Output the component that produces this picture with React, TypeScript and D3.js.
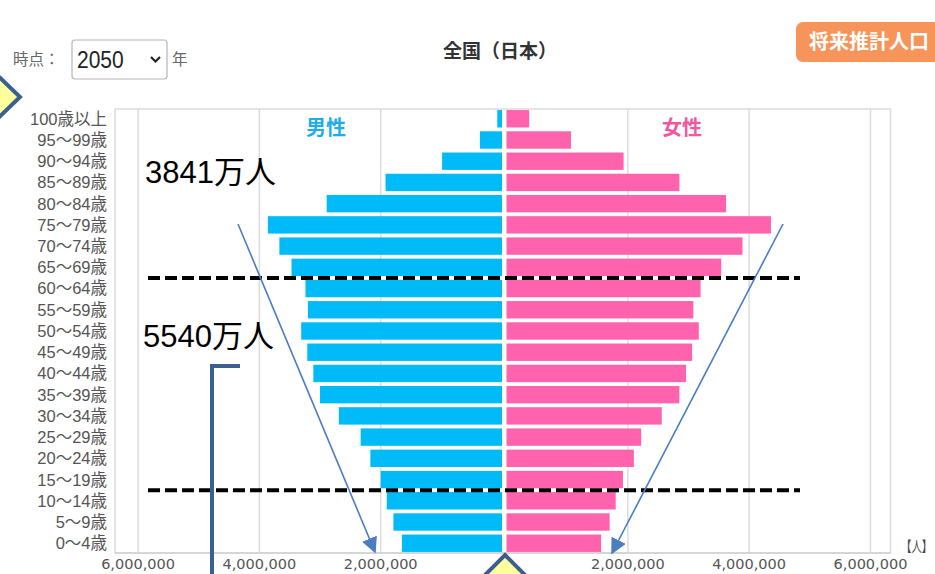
import React from "react";
import * as d3 from "d3";

const ages = [
  "100歳以上", "95～99歳", "90～94歳", "85～89歳", "80～84歳", "75～79歳", "70～74歳",
  "65～69歳", "60～64歳", "55～59歳", "50～54歳", "45～49歳", "40～44歳", "35～39歳",
  "30～34歳", "25～29歳", "20～24歳", "15～19歳", "10～14歳", "5～9歳", "0～4歳",
];
const maleValues = [
  78000, 364000, 987000, 1920000, 2890000, 3860000, 3670000, 3470000, 3240000, 3200000,
  3310000, 3210000, 3110000, 3000000, 2690000, 2330000, 2170000, 2000000, 1900000, 1790000, 1650000,
];
const femaleValues = [
  374000, 1063000, 1930000, 2850000, 3620000, 4360000, 3890000, 3540000, 3200000, 3080000,
  3170000, 3060000, 2960000, 2850000, 2560000, 2220000, 2100000, 1920000, 1800000, 1700000, 1560000,
];
const tickValues = [2000000, 4000000, 6000000];
const boundaryPairs = [["65～69歳", "60～64歳"], ["15～19歳", "10～14歳"]];
const annotationTexts = ["3841万人", "5540万人"];

const W = 935;
const H = 574;
const JP = "'Noto Sans CJK JP', 'Noto Sans', sans-serif";
const NUM = "'DejaVu Sans', 'Noto Sans CJK JP', sans-serif";
const LAB = "'Liberation Sans', 'Noto Sans CJK JP', sans-serif";

export default function App() {
  const top = 109;
  const bottom = 553;
  const y = d3.scaleBand<string>().domain(ages).range([top, bottom]).paddingInner(0.18).paddingOuter(0.05);
  const xMale = d3.scaleLinear().domain([0, 6380000]).range([502, 115]);
  const xFemale = d3.scaleLinear().domain([0, 6330000]).range([506.5, 890.5]);
  const fmt = d3.format(",");
  const bw = y.bandwidth();
  const boundaryY = (a: string, b: string) => ((y(a) as number) + bw + (y(b) as number)) / 2;

  const arrowColor = "#4a7ebf";
  const darkBlue = "#3b5f8f";

  return (
    <svg width={W} height={H} style={{ position: "absolute", left: 0, top: 0, background: "#fff" }}>
      <defs>
        <marker id="arr" viewBox="0 0 10 10" refX="9" refY="5" markerWidth="10" markerHeight="10" orient="auto">
          <path d="M0,0 L10,5 L0,10 z" fill={arrowColor} />
        </marker>
      </defs>
      <rect x={0} y={0} width={W} height={H} fill="#fff" />

      {/* header */}
      <text x={13} y={65} fontFamily={JP} fontSize={15.5} fill="#666">時点：</text>
      <rect x={72} y={40} width={95} height={39} rx={3} fill="#fff" stroke="#b5b5b5" strokeWidth={1.2} />
      <text x={77} y={68} fontFamily="'Liberation Sans', Arial, sans-serif" fontSize={21} fill="#222" transform="translate(0,68) scale(1,1.18) translate(0,-68)">2050</text>
      <path d="M151,57 L155.5,61.5 L160,57" fill="none" stroke="#222" strokeWidth={2.2} />
      <text x={172} y={65} fontFamily={JP} fontSize={15.5} fill="#666">年</text>
      <text x={500} y={58} textAnchor="middle" fontFamily={JP} fontSize={19} fontWeight="bold" fill="#333">全国（日本）</text>
      <rect x={796} y={22} width={160} height={40} rx={7} fill="#f7945a" />
      <text x={809} y={49} fontFamily={JP} fontSize={20} fontWeight="bold" fill="#fff">将来推計人口</text>

      {/* frame */}
      <rect x={115} y={top} width={890.5 - 115} height={bottom - top} fill="none" stroke="#dcdcdc" strokeWidth={1.5} />

      {/* gridlines */}
      {tickValues.map((t) => (
        <g key={"g" + t}>
          <line x1={xMale(t)} x2={xMale(t)} y1={top} y2={bottom} stroke="#dcdcdc" strokeWidth={1.5} />
          <line x1={xFemale(t)} x2={xFemale(t)} y1={top} y2={bottom} stroke="#dcdcdc" strokeWidth={1.5} />
        </g>
      ))}

      {/* bars */}
      {ages.map((a, i) => (
        <g key={a}>
          <rect x={xMale(maleValues[i])} y={y(a)} width={xMale(0) - xMale(maleValues[i])} height={bw} fill="#00bbf7" />
          <rect x={xFemale(0)} y={y(a)} width={xFemale(femaleValues[i]) - xFemale(0)} height={bw} fill="#ff63ad" />
        </g>
      ))}

      {/* bottom axis line */}
      <line x1={115} x2={890.5} y1={bottom} y2={bottom} stroke="#d0d0d0" strokeWidth={1.5} />

      {/* sex labels */}
      <text x={326} y={135} textAnchor="middle" fontFamily={JP} fontSize={20} fontWeight="bold" fill="#1cadea">男性</text>
      <text x={682} y={135} textAnchor="middle" fontFamily={JP} fontSize={20} fontWeight="bold" fill="#f0579f">女性</text>

      {/* age labels */}
      {ages.map((a) => (
        <text key={"l" + a} x={107} y={(y(a) as number) + bw / 2} dy="0.36em" textAnchor="end" fontFamily={LAB} fontSize={16.5} fill="#555">{a}</text>
      ))}

      {/* tick labels */}
      {tickValues.map((t) => (
        <g key={"t" + t}>
          <text x={xMale(t)} y={569} textAnchor="middle" fontFamily={NUM} fontSize={14.5} fill="#555">{fmt(t)}</text>
          <text x={xFemale(t)} y={569} textAnchor="middle" fontFamily={NUM} fontSize={14.5} fill="#555">{fmt(t)}</text>
        </g>
      ))}
      <text transform="translate(901,552) scale(0.72,1)" fontFamily={JP} fontSize={14.5} fill="#444">【人】</text>

      {/* annotations */}
      {boundaryPairs.map(([a, b]) => (
        <line key={a} x1={148} x2={800} y1={boundaryY(a, b)} y2={boundaryY(a, b)} stroke="#000" strokeWidth={4} strokeDasharray="12 5" />
      ))}
      <text x={145} y={183} fontFamily="'Liberation Sans', Arial, 'Noto Sans CJK JP', sans-serif" fontSize={31} fill="#000">{annotationTexts[0]}</text>
      <text x={143} y={347} fontFamily="'Liberation Sans', Arial, 'Noto Sans CJK JP', sans-serif" fontSize={31} fill="#000">{annotationTexts[1]}</text>
      <line x1={238} y1={224} x2={375} y2={552} stroke={arrowColor} strokeWidth={1.6} markerEnd="url(#arr)" />
      <line x1={783} y1={224} x2={612} y2={553} stroke={arrowColor} strokeWidth={1.6} markerEnd="url(#arr)" />
      <path d="M240,366 L212,366 L212,574" fill="none" stroke={darkBlue} strokeWidth={4} />

      {/* diamonds */}
      <path d="M-10,68 L20,97 L-10,126 L-40,97 Z" fill="#ffff9e" stroke={darkBlue} strokeWidth={4} />
      <path d="M505,555 L532,582 L505,609 L478,582 Z" fill="#ffff9e" stroke={darkBlue} strokeWidth={4} />
    </svg>
  );
}
